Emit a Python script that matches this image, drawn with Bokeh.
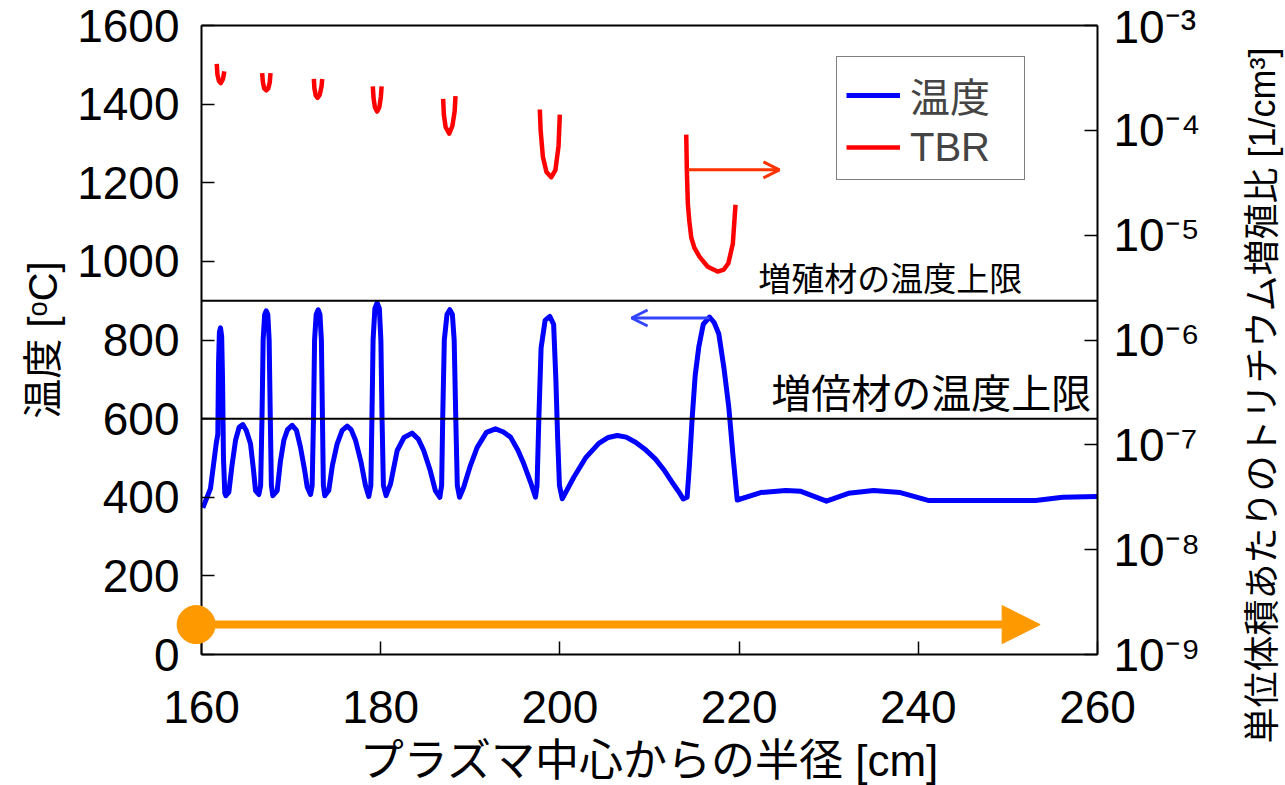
import math
from bokeh.plotting import figure
from bokeh.models import (Range1d, LogScale, LogAxis, LinearAxis, FixedTicker,
                          CustomJSTickFormatter, Label, Arrow, OpenHead, NormalHead,
                          Legend, LegendItem)
from bokeh.embed import file_html
from bokeh.resources import INLINE

# ---------------- data ----------------
# temperature [deg C] vs radius [cm]
temp_r = [160.15, 161.0, 161.64,
          161.82, 161.9, 162.0, 162.12, 162.25, 162.35, 162.45, 162.6, 162.72,
          163.05, 163.4, 163.8, 164.2, 164.61, 165.0, 165.47, 165.8, 166.03, 166.4,
          166.6, 166.75, 166.88, 167.05, 167.22, 167.4, 167.55, 167.68, 167.8, 167.96,
          168.45, 168.8, 169.19, 169.6, 170.12, 170.6, 171.05, 171.5, 171.8, 172.17,
          172.35, 172.5, 172.62, 172.8, 173.02, 173.22, 173.38, 173.5, 173.6, 173.76,
          174.2, 174.6, 175.14, 175.7, 176.26, 176.7, 177.19, 177.8, 178.3, 178.67,
          178.9, 179.02, 179.15, 179.35, 179.6, 179.85, 180.02, 180.15, 180.3, 180.6,
          181.1, 181.84, 182.6, 183.5, 184.2, 184.8, 185.5, 186.1, 186.6,
          186.8, 186.92, 187.1, 187.4, 187.71, 188.0, 188.2, 188.38, 188.55, 188.8,
          189.27, 190.0, 190.77, 191.8, 192.81, 193.7, 194.49, 195.3, 195.97, 196.7, 197.28,
          197.45, 197.65, 197.9, 198.35, 198.87, 199.3, 199.55, 199.75, 199.95, 200.26,
          201.55, 202.86, 204.34, 205.4, 206.4, 207.4, 208.44, 209.6, 210.67, 211.6,
          212.53, 213.2, 213.76,
          214.2, 214.45, 214.77, 215.1, 215.5, 216.0, 216.7, 217.2, 217.73, 218.3,
          218.85, 219.3, 219.79,
          222.4, 225.2, 226.9, 229.75, 232.2, 235.0, 238.0, 241.1, 253.1, 256.1, 260.0]
temp_c = [373, 422, 536,
          560, 740, 820, 831, 810, 700, 500, 410, 404,
          413, 480, 545, 578, 585, 570, 536, 470, 417, 407,
          430, 600, 800, 865, 874, 865, 800, 600, 430, 404,
          417, 490, 545, 572, 583, 570, 527, 470, 426, 407,
          430, 600, 800, 865, 877, 865, 800, 600, 430, 404,
          417, 480, 536, 570, 581, 572, 545, 490, 430, 402,
          430, 600, 800, 880, 894, 880, 800, 600, 430, 404,
          434, 519, 552, 563, 548, 519, 470, 417, 400,
          430, 600, 800, 865, 877, 865, 800, 600, 430, 400,
          426, 480, 527, 565, 574, 566, 553, 520, 485, 440, 400,
          430, 600, 780, 850, 860, 840, 700, 550, 430, 396,
          451, 500, 537, 552, 557, 553, 540, 520, 497, 470,
          438, 416, 396,
          400, 480, 604, 710, 782, 840, 858, 845, 816, 730,
          629, 510, 393,
          412, 417, 415, 390, 410, 417, 412, 392, 392, 400, 402]

# tritium breeding ratio per unit volume [1/cm3], one curve per breeder layer
tbr_r = [
    [161.7, 161.78, 161.95, 162.15, 162.4, 162.55],
    [166.77, 166.85, 167.0, 167.23, 167.45, 167.62, 167.7],
    [172.54, 172.6, 172.75, 172.95, 173.2, 173.4, 173.47],
    [179.12, 179.2, 179.35, 179.6, 179.85, 180.02, 180.1],
    [186.97, 187.05, 187.25, 187.65, 188.0, 188.25, 188.35],
    [197.76, 197.85, 198.1, 198.5, 199.03, 199.5, 199.85, 199.99],
    [214.1, 214.17, 214.28, 214.45, 214.66, 215.0, 215.59, 216.5, 217.6, 218.3,
     218.8, 219.3, 219.6],
]
tbr_v = [
    [4.31e-4, 3.39e-4, 2.95e-4, 2.82e-4, 3.09e-4, 3.66e-4],
    [3.51e-4, 2.88e-4, 2.51e-4, 2.40e-4, 2.51e-4, 2.88e-4, 3.51e-4],
    [3.09e-4, 2.51e-4, 2.14e-4, 2.04e-4, 2.19e-4, 2.63e-4, 3.09e-4],
    [2.63e-4, 2.04e-4, 1.66e-4, 1.51e-4, 1.66e-4, 2.09e-4, 2.63e-4],
    [2.00e-4, 1.41e-4, 1.07e-4, 9.3e-5, 1.10e-4, 1.51e-4, 2.12e-4],
    [1.58e-4, 1.00e-4, 5.6e-5, 4.0e-5, 3.57e-5, 4.17e-5, 7.1e-5, 1.41e-4],
    [9.1e-5, 4.1e-5, 2.0e-5, 1.35e-5, 9.5e-6, 7.6e-6, 6.2e-6, 5.0e-6, 4.5e-6, 4.7e-6,
     5.4e-6, 8.3e-6, 1.95e-5],
]

x_ticks = [160, 180, 200, 220, 240, 260]
y_ticks = [0, 200, 400, 600, 800, 1000, 1200, 1400, 1600]
tbr_ticks = [1e-9, 1e-8, 1e-7, 1e-6, 1e-5, 1e-4, 1e-3]
limits = [900, 600]
limit_labels = ["増殖材の温度上限", "増倍材の温度上限"]

LATIN = "'Liberation Sans', Arial, sans-serif"
MIXED = "'Liberation Sans', 'Noto Sans CJK JP', sans-serif"

# ---------------- geometry (pixels); the frame fills the whole canvas ----------------
X0, X1 = 160, 260
Y0, Y1 = 0, 1600
L0, L1 = -9, -3          # log10 limits of the TBR axis
AX_LEFT, AX_RIGHT, AX_TOP, AX_BOTTOM = 201, 1097, 25, 654
W, H = 1285, 785
ppx = (AX_RIGHT - AX_LEFT) / (X1 - X0)
ppy = (AX_BOTTOM - AX_TOP) / (Y1 - Y0)
ppd = (AX_BOTTOM - AX_TOP) / (L1 - L0)

p = figure(frame_width=W, frame_height=H,
           output_backend="svg", toolbar_location=None,
           x_axis_location=None, y_axis_location=None,
           x_range=Range1d(X0 - AX_LEFT / ppx, X1 + (W - AX_RIGHT) / ppx),
           y_range=Range1d(Y0 - (H - AX_BOTTOM) / ppy, Y1 + AX_TOP / ppy),
           min_border=0)
p.extra_y_ranges = {"tbr": Range1d(10 ** (L0 - (H - AX_BOTTOM) / ppd),
                                   10 ** (L1 + AX_TOP / ppd))}
p.extra_y_scales = {"tbr": LogScale()}
p.grid.visible = False
p.outline_line_color = None
p.background_fill_color = "white"
p.border_fill_color = "white"


def style(ax):
    ax.major_tick_in = 13
    ax.major_tick_out = 0
    ax.minor_tick_line_color = None
    ax.axis_line_width = 2
    ax.axis_line_color = "black"
    ax.major_tick_line_width = 1.5
    ax.major_tick_line_color = "black"
    ax.major_label_text_color = "black"
    ax.major_label_text_font = LATIN
    ax.major_label_text_font_size = "46px"
    ax.axis_label_text_font = MIXED
    ax.axis_label_text_font_style = "normal"
    ax.axis_label_text_color = "black"


# bottom axis at T = 0
bottom_axis = LinearAxis(ticker=FixedTicker(ticks=x_ticks), bounds=(X0, X1),
                         fixed_location=Y0)
style(bottom_axis)
bottom_axis.axis_label = "プラズマ中心からの半径 [cm]"
bottom_axis.axis_label_text_font_size = "44px"
bottom_axis.major_label_standoff = 36
bottom_axis.axis_label_standoff = 10
p.add_layout(bottom_axis, "below")

# left axis at r = 160
left_axis = LinearAxis(ticker=FixedTicker(ticks=y_ticks), bounds=(Y0, Y1),
                       fixed_location=X0)
style(left_axis)
left_axis.major_label_standoff = 22
left_axis.axis_label = "温度 [ᵒC]"
left_axis.axis_label_text_font_size = "40px"
left_axis.axis_label_standoff = 9
p.add_layout(left_axis, "left")

# right (log) axis at r = 260
right_axis = LogAxis(y_range_name="tbr", fixed_location=X1,
                     bounds=(tbr_ticks[0], tbr_ticks[-1]),
                     ticker=FixedTicker(ticks=tbr_ticks))
style(right_axis)
right_axis.major_label_standoff = 16
right_axis.formatter = CustomJSTickFormatter(code="""
const e = Math.round(Math.log10(tick));
const sup = {"-": "\u207B", "0": "\u2070", "1": "\u00B9", "2": "\u00B2", "3": "\u00B3",
             "4": "\u2074", "5": "\u2075", "6": "\u2076", "7": "\u2077", "8": "\u2078", "9": "\u2079"};
return "10" + String(e).split("").map(c => sup[c]).join("");
""")
p.add_layout(right_axis, "right")

# top border line at T = 1600
top_axis = LinearAxis(ticker=FixedTicker(ticks=[]), bounds=(X0, X1), fixed_location=Y1)
style(top_axis)
p.add_layout(top_axis, "above")

# right-axis title (reads bottom to top)
p.add_layout(Label(x=X1 + (1262 - AX_RIGHT) / ppx, y=(AX_BOTTOM - 395) / ppy,
                   text="単位体積あたりのトリチウム増殖比 [1/cm³]", angle=math.pi / 2,
                   text_align="center", text_baseline="middle",
                   text_font=MIXED, text_font_size="36px", text_color="black"))

# ---------------- data renderers ----------------
temp_line = p.line(temp_r, temp_c, line_color="#0000ff", line_width=5,
                   line_join="round")
tbr_lines = p.multi_line(tbr_r, tbr_v, line_color="#ff0000", line_width=4.5,
                         line_join="round", y_range_name="tbr")

# ---------------- limit lines & labels ----------------
p.segment(x0=[X0] * len(limits), x1=[X1] * len(limits), y0=limits, y1=limits,
          line_color="black", line_width=2)
for lim, txt, xr, fs in zip(limits, limit_labels, [251.6, 259.3], ["33px", "40px"]):
    p.add_layout(Label(x=xr, y=lim, text=txt, text_align="right", text_baseline="bottom",
                       y_offset=3, text_font=MIXED, text_font_size=fs,
                       text_color="black"))

# ---------------- arrows ----------------
p.add_layout(Arrow(end=OpenHead(size=16, line_color="#3344ff", line_width=3),
                   x_start=216.7, y_start=856, x_end=208.0, y_end=856,
                   line_color="#3344ff", line_width=3))
p.add_layout(Arrow(end=OpenHead(size=16, line_color="#ff3300", line_width=3),
                   x_start=214.3, y_start=4.2e-5, x_end=224.5, y_end=4.2e-5,
                   y_range_name="tbr", line_color="#ff3300", line_width=3))

orange = "#ff9900"
orange_start = (159.4, 76)
orange_end = (253.6, 76)
p.add_layout(Arrow(end=NormalHead(size=38, fill_color=orange, line_color=orange),
                   x_start=orange_start[0], y_start=orange_start[1],
                   x_end=orange_end[0], y_end=orange_end[1],
                   line_color=orange, line_width=8))
p.scatter(x=[orange_start[0]], y=[orange_start[1]], size=38, marker="circle",
          fill_color=orange, line_color=orange, level="overlay")

# ---------------- legend ----------------
legend = Legend(items=[LegendItem(label="温度", renderers=[temp_line]),
                       LegendItem(label="TBR", renderers=[tbr_lines])],
                location=(836, H - 180))
legend.label_text_font = MIXED
legend.label_text_font_size = "40px"
legend.glyph_width = 54
legend.glyph_height = 30
legend.label_height = 46
legend.label_width = 105
legend.spacing = 0
legend.padding = 9
legend.margin = 0
legend.label_standoff = 10
legend.border_line_color = "black"
legend.border_line_width = 1.5
legend.background_fill_alpha = 1.0
p.add_layout(legend, "center")

open("out.html", "w").write(file_html(p, INLINE))
